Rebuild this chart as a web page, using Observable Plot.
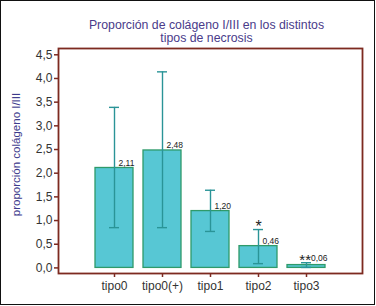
<!DOCTYPE html>
<html><head><meta charset="utf-8">
<script src="https://cdn.jsdelivr.net/npm/d3@7"></script>
<script src="https://cdn.jsdelivr.net/npm/@observablehq/plot@0.6"></script>
<style>
html,body{margin:0;padding:0;background:#fff;}
#wrap{position:relative;width:376px;height:306px;overflow:hidden;}
#border{position:absolute;left:0;top:0;width:373px;height:303px;border:1.5px solid #111;box-sizing:content-box;pointer-events:none;}
svg{display:block;}
</style></head>
<body><div id="wrap"><div id="border"></div></div>
<script>
const categories = ["tipo0","tipo0(+)","tipo1","tipo2","tipo3"];
const values = [2.11, 2.48, 1.20, 0.46, 0.06];
const errLow = [0.85, 0.85, 0.77, 0.09, 0.01];
const errHigh = [3.39, 4.14, 1.64, 0.81, 0.11];
const valueLabels = ["2,11","2,48","1,20","0,46","0,06"];
const signif = ["","","","*","**"];
const yTicks = [0,0.5,1,1.5,2,2.5,3,3.5,4,4.5];
const titleLines = ["Proporción de colágeno I/III en los distintos","tipos de necrosis"];
const yLabel = "proporción colágeno I/III";

const data = categories.map((c,i)=>({cat:c, v:values[i], lo:errLow[i], hi:errHigh[i], lab:valueLabels[i], sig:signif[i]}));
const fmt = d => d.toFixed(1).replace(".", ",");
const frameColor = "#7d2a20";
const errColor = "#2a9497";
const font = "Liberation Sans, Arial, sans-serif";
const narrow = "Liberation Sans Narrow, Arial Narrow, Liberation Sans, sans-serif";

const onBar = data.filter(d => d.sig !== "**");
const aboveErr = data.filter(d => d.sig === "**");

const chart = Plot.plot({
  width: 376, height: 306,
  marginLeft: 58, marginRight: 14, marginTop: 48, marginBottom: 33,
  style: {fontFamily: font, background: "transparent", overflow: "visible"},
  x: {domain: categories, paddingInner: 0.2, paddingOuter: 0.72, axis: null},
  y: {domain: [-0.118, 4.633], axis: null},
  marks: [
    Plot.barY(data, {x:"cat", y1:0, y2:"v", fill:"#57c7d4", stroke:"#2f9a6a", strokeWidth:1.3}),
    Plot.ruleX(data, {x:"cat", y1:"lo", y2:"hi", stroke:errColor, strokeWidth:1.4}),
    Plot.tickY(data, {x:"cat", y:"hi", stroke:errColor, strokeWidth:1.4, insetLeft:14, insetRight:14}),
    Plot.tickY(data, {x:"cat", y:"lo", stroke:errColor, strokeWidth:1.4, insetLeft:14, insetRight:14}),
    Plot.text(onBar, {x:"cat", y:"v", text:"lab", textAnchor:"start", lineAnchor:"bottom", dx:4, dy:-2, fontSize:8.5, fontFamily:narrow, fill:"#222"}),
    Plot.text(aboveErr, {x:"cat", y:"hi", text:"lab", textAnchor:"start", lineAnchor:"bottom", dx:4.5, dy:-1.5, fontSize:8.5, fontFamily:narrow, fill:"#222"}),
    Plot.text(data.filter(d=>d.sig==="*"), {x:"cat", y:"hi", text:"sig", lineAnchor:"bottom", dy:2.5, fontSize:16, fill:"#222"}),
    Plot.text(aboveErr, {x:"cat", y:"hi", text:"sig", textAnchor:"end", lineAnchor:"bottom", dx:4.5, dy:2.5, fontSize:15, fill:"#222"}),
    Plot.frame({stroke: frameColor, strokeWidth: 1.8}),
    Plot.axisY(yTicks, {tickFormat: fmt, tickSize: 4, stroke: frameColor, strokeWidth:1.5, fill:"#333", fontSize:12, label:null, tickPadding:2}),
    Plot.axisX({tickSize: 4, stroke: frameColor, strokeWidth:1.5, fill:"#333", fontSize:12, label:null, tickPadding:4}),
    Plot.text([yLabel], {frameAnchor:"left", textAnchor:"middle", rotate:-90, dx:-42, dy:-6.5, fontSize:11.5, fill:"#3d3a8c"}),
    Plot.text([titleLines.join("\n")], {frameAnchor:"top", dx:-4, dy:-29, lineAnchor:"top", lineHeight:1.08, fontSize:12.3, fill:"#4a3b8a"})
  ]
});
document.getElementById("wrap").prepend(chart);
</script></body></html>
